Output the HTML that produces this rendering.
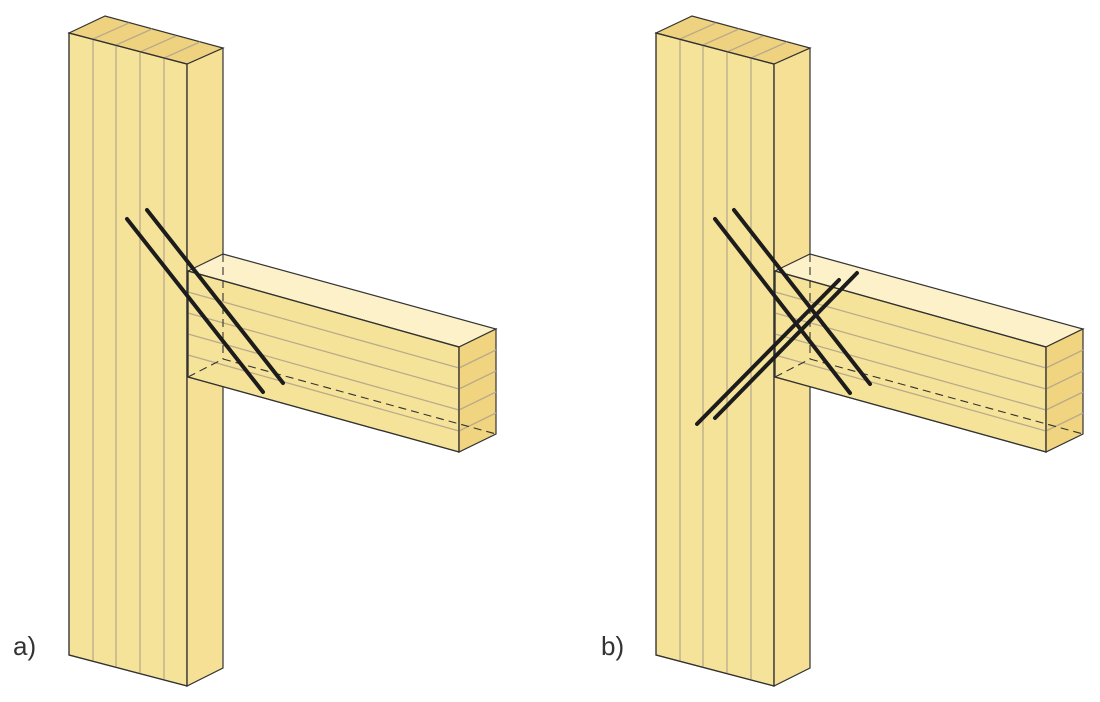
<!DOCTYPE html>
<html><head><style>html,body{margin:0;padding:0;background:#fff}svg{display:block}</style></head><body>
<svg width="1100" height="702" viewBox="0 0 1100 702" xmlns="http://www.w3.org/2000/svg" font-family="Liberation Sans, sans-serif">
<defs>
<g id="joint">
  <!-- column -->
  <polygon points="69,33 187,64 187,686 69,655" fill="#f6e39a" stroke="#333" stroke-width="1.2"/>
  <polygon points="187,64 223,48 223,668 187,686" fill="#f5e096" stroke="#333" stroke-width="1.2"/>
  <polygon points="69,33 105,16 223,48 187,64" fill="#efd27f" stroke="#333" stroke-width="1.2"/>
  <g stroke="#b9aa8a" stroke-width="1.3">
    <line x1="93" y1="39" x2="93" y2="661"/>
    <line x1="116" y1="45" x2="116" y2="667"/>
    <line x1="140" y1="52" x2="140" y2="674"/>
    <line x1="164" y1="58" x2="164" y2="680"/>
    <line x1="93" y1="39" x2="129" y2="23"/>
    <line x1="116" y1="45" x2="152" y2="29"/>
    <line x1="140" y1="52" x2="176" y2="36"/>
    <line x1="164" y1="58" x2="200" y2="42"/>
  </g>
  <polygon points="69,33 187,64 187,686 69,655" fill="none" stroke="#333" stroke-width="1.2"/>
  <!-- beam -->
  <polygon points="188,271 223,254 496,329 459,347" fill="#fcf1c9" stroke="#333" stroke-width="1.2"/>
  <polygon points="188,271 459,347 459,452 188,377" fill="#f6e39a" stroke="#333" stroke-width="1.2"/>
  <polygon points="459,347 496,329 496,434 459,452" fill="#f0d47f" stroke="#333" stroke-width="1.2"/>
  <g stroke="#b9aa8a" stroke-width="1.3">
    <line x1="188" y1="292" x2="459" y2="368"/>
    <line x1="188" y1="313" x2="459" y2="389"/>
    <line x1="188" y1="334" x2="459" y2="410"/>
    <line x1="188" y1="355" x2="459" y2="431"/>
    <line x1="459" y1="368" x2="496" y2="350"/>
    <line x1="459" y1="389" x2="496" y2="371"/>
    <line x1="459" y1="410" x2="496" y2="392"/>
    <line x1="459" y1="431" x2="496" y2="413"/>
  </g>
  <g stroke="#333" stroke-width="1.1" stroke-dasharray="8,5" fill="none">
    <line x1="223" y1="254" x2="223" y2="359"/>
    <line x1="188" y1="377" x2="223" y2="359"/>
    <line x1="223" y1="359" x2="496" y2="434"/>
  </g>
  <polygon points="188,271 459,347 459,452 188,377" fill="none" stroke="#333" stroke-width="1.2"/>
</g>
</defs>
<use href="#joint"/>
<g stroke="#1c1c1c" stroke-width="4" stroke-linecap="round">
  <line x1="127" y1="219" x2="263" y2="392"/>
  <line x1="147" y1="210" x2="283" y2="383"/>
</g>
<use href="#joint" transform="translate(587,0)"/>
<g stroke="#1c1c1c" stroke-width="4" stroke-linecap="round">
  <line x1="715" y1="219" x2="850" y2="393"/>
  <line x1="734" y1="210" x2="870" y2="384"/>
  <line x1="697" y1="424" x2="839" y2="280"/>
  <line x1="715" y1="418" x2="857" y2="273"/>
</g>
<text x="13" y="655" font-size="26" fill="#333">a)</text>
<text x="601" y="655" font-size="26" fill="#333">b)</text>
</svg>
</body></html>
